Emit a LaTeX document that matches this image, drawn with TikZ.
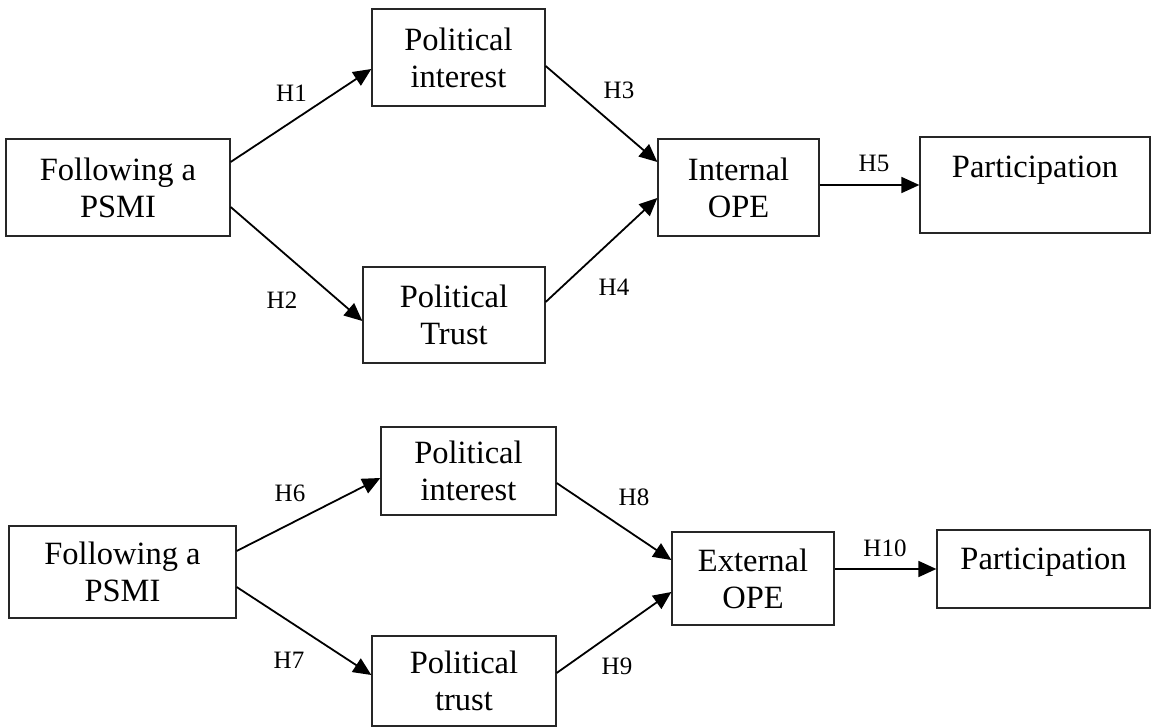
\documentclass[tikz,border=0pt]{standalone}
\usepackage{fontspec}
\setmainfont{Liberation Serif}
\usetikzlibrary{arrows.meta}
\begin{document}
\begin{tikzpicture}[x=1pt,y=-1pt,
  base/.style={draw=black!85, line width=1.3pt, rectangle, inner sep=0pt, font=\fontsize{32.5}{37}\selectfont},
  box/.style={base, align=center},
  hyp/.style={font=\fontsize{25}{28}\selectfont, inner sep=0pt},
  arr/.style={-{Triangle[length=18pt,width=16pt]}, line width=1.8pt}]
\useasboundingbox (0,0) rectangle (1151,727);
% ---------- top model ----------
\node[box, minimum width=224pt, minimum height=97pt] (fa1) at (118,187.5) {Following a\\PSMI};
\node[box, minimum width=173pt, minimum height=97pt] (pi1) at (458.5,57.5) {Political\\interest};
\node[box, minimum width=182pt, minimum height=96pt] (pt1) at (454,315) {Political\\Trust};
\node[box, minimum width=161pt, minimum height=97pt] (io1) at (738.5,187.5) {Internal\\OPE};
\node[base, minimum width=230pt, minimum height=96pt] (pa1) at (1035,185) {\raisebox{7pt}[0pt][0pt]{Participation}};

\draw[arr] ([yshift=25.5pt]fa1.east) -- ([yshift=-11.5pt]pi1.west);
\draw[arr] ([yshift=-19.5pt]fa1.east) -- ([yshift=-6pt]pt1.west);
\draw[arr] ([yshift=-8.5pt]pi1.east) -- ([yshift=25.5pt]io1.west);
\draw[arr] ([yshift=13pt]pt1.east) -- ([yshift=-10.5pt]io1.west);
\draw[arr] ([yshift=2.5pt]io1.east) -- (pa1.west);

\node[hyp] (h1) at (291.5,93) {H1};
\node[hyp] (h2) at (282,300) {H2};
\node[hyp] (h3) at (619,90) {H3};
\node[hyp] (h4) at (614,287) {H4};
\node[hyp] (h5) at (874,163) {H5};

% ---------- bottom model ----------
\node[box, minimum width=227pt, minimum height=92pt] (fa2) at (122.5,572) {Following a\\PSMI};
\node[box, minimum width=175pt, minimum height=88pt] (pi2) at (468.5,471) {Political\\interest};
\node[box, minimum width=184pt, minimum height=90pt] (pt2) at (464,681) {Political\\trust};
\node[box, minimum width=162pt, minimum height=93pt] (eo2) at (753,578.5) {External\\OPE};
\node[base, minimum width=213pt, minimum height=78pt] (pa2) at (1043.5,569) {\raisebox{0pt}[0pt][0pt]{Participation}};

\draw[arr] ([yshift=21pt]fa2.east) -- ([yshift=-7pt]pi2.west);
\draw[arr] ([yshift=-15pt]fa2.east) -- ([yshift=6pt]pt2.west);
\draw[arr] ([yshift=-12pt]pi2.east) -- ([yshift=18.5pt]eo2.west);
\draw[arr] ([yshift=8pt]pt2.east) -- ([yshift=-13.5pt]eo2.west);
\draw[arr] ([yshift=9.5pt]eo2.east) -- (pa2.west);

\node[hyp] (h6) at (290,493) {H6};
\node[hyp] (h7) at (289,660) {H7};
\node[hyp] (h8) at (634,497) {H8};
\node[hyp] (h9) at (617,666) {H9};
\node[hyp] (h10) at (885,548) {H10};
\end{tikzpicture}
\end{document}
